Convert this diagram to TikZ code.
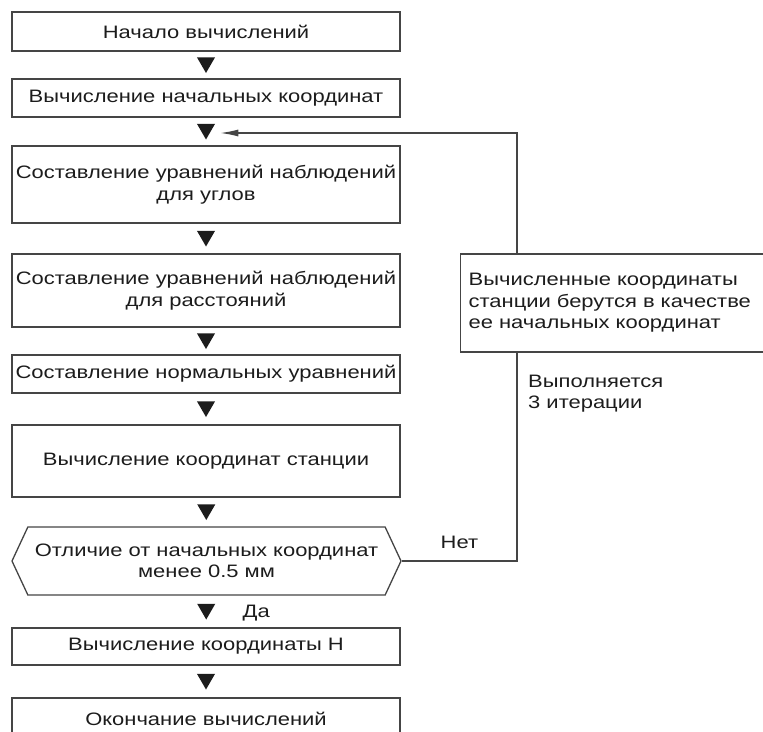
\documentclass[tikz,border=0pt]{standalone}
\usepackage{fontspec}
\setmainfont{Liberation Sans}[FakeStretch=1.22]
\usetikzlibrary{arrows.meta,positioning,calc,shapes.geometric,shapes.symbols}
\definecolor{ink}  {HTML}{1C1C1C}
\definecolor{edge} {HTML}{454545}

\begin{document}
\begin{tikzpicture}[
  x=1pt, y=-1pt,
  font=\fontsize{18}{21.5}\selectfont,
  stepbox/.style={rectangle, draw=edge, line width=1.3pt, fill=white, text=ink, align=center,
                  minimum width=388pt, inner sep=2pt},
  check/.style={signal, signal to=west and east, signal pointer angle=130, draw=edge,
                line width=1.3pt, fill=white, text=ink, align=center, minimum width=389pt,
                minimum height=68pt, inner sep=2pt},
  tri/.style={regular polygon, regular polygon sides=3, shape border rotate=180, fill=ink,
              inner sep=0pt, minimum size=21pt, yshift=2.5pt},
  note/.style={rectangle, draw=edge, line width=1.3pt, fill=white, text=ink, align=left,
               text width=300pt, inner xsep=8pt, minimum height=98pt},
  lab/.style={text=ink, inner sep=0pt, align=left},
  >={Latex[length=18pt,width=7pt]}, arr/.style={->, edge, line width=1.3pt}
]
\useasboundingbox (0,0) rectangle (763,731);

\node[stepbox, minimum height=39pt] (start) at (206,31.5) {Начало вычислений};
\node[stepbox, minimum height=38pt] (init) at (206,98) {Вычисление начальных координат};
\node[stepbox, minimum height=77pt] (angles) at (206,184.5) {Составление уравнений наблюдений\\ для углов};
\node[stepbox, minimum height=73pt] (dists) at (206,290.5) {Составление уравнений наблюдений\\ для расстояний};
\node[stepbox, minimum height=38pt] (norm) at (206,374) {Составление нормальных уравнений};
\node[stepbox, minimum height=72pt] (stat) at (206,461) {Вычисление координат станции};
\node[check] (check) at (206.5,561) {Отличие от начальных координат\\ менее 0.5 мм};
\node[stepbox, minimum height=37pt] (height) at (206,646.5) {Вычисление координаты H};
\node[stepbox, minimum height=42pt] (stop) at (206,719) {Окончание вычислений};

\path (start) -- node[tri] (t1) {} (init);
\path (init) -- node[tri] (t2) {} (angles);
\path (angles) -- node[tri] (t3) {} (dists);
\path (dists) -- node[tri] (t4) {} (norm);
\path (norm) -- node[tri] (t5) {} (stat);
\path (stat) -- node[tri] (t6) {} (check);
\path (check) -- node[tri] (t7) {} (height);
\path (height) -- node[tri] (t8) {} (stop);
\node[lab, right=30pt of t7, yshift=-4pt] (yes) {Да};

% back to the start of the iteration
\coordinate (turn) at (517,561);
\draw[arr, shorten >=8pt] (check.east) -- node[lab, above=12pt] (no) {Нет} (turn)
  |- ([yshift=-4pt]t2.east);

\node[note, anchor=west] (feed) at (460,303) {Вычисленные координаты\\
  станции берутся в качестве\\ ее начальных координат};
\node[lab, anchor=west] (iter) at (528,393.5) {Выполняется\\ 3 итерации};
\end{tikzpicture}
\end{document}
